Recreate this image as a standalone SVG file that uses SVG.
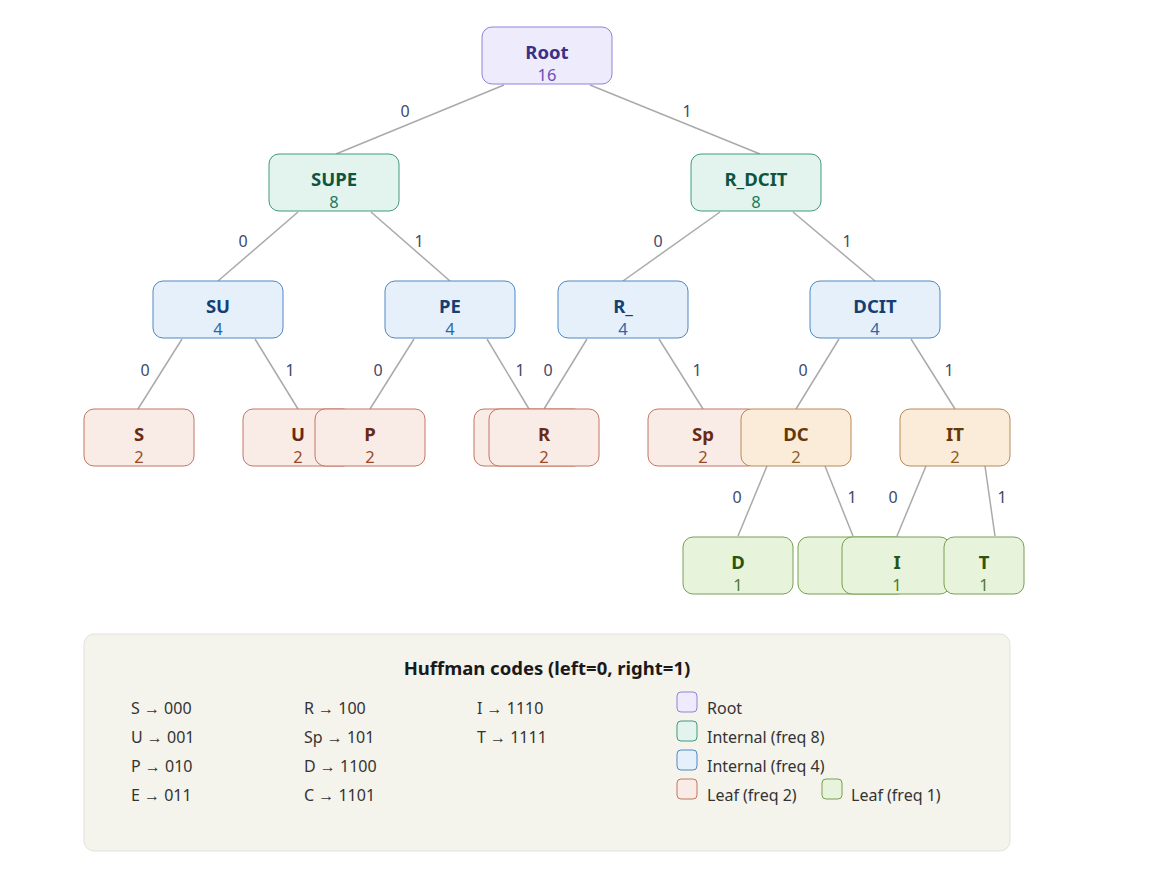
<svg xmlns="http://www.w3.org/2000/svg" width="1169" height="869" viewBox="0 0 1169 869">
<style>
text{font-family:"Noto Sans","Open Sans","Liberation Sans",sans-serif}
.lbl{font-size:18.5px;font-weight:bold;text-anchor:middle}
.num{font-size:16.5px;text-anchor:middle}
.edge{stroke:#aaaaaa;stroke-width:1.5;fill:none}
.el{font-size:16px;fill:#3e4a6a;text-anchor:middle}
.root rect{fill:#eeebfc;stroke:#8f83d8}
.root .lbl{fill:#3b2f86}.root .num{fill:#6a4fb8}
.i8 rect{fill:#e3f4ee;stroke:#409a7c}
.i8 .lbl{fill:#0e5440}.i8 .num{fill:#1f7a5e}
.i4 rect{fill:#e6f0fa;stroke:#4f87c4}
.i4 .lbl{fill:#143f72}.i4 .num{fill:#2c68a8}
.l2 rect{fill:#f9ebe6;stroke:#c27663}
.l2 .lbl{fill:#6a2a12}.l2 .num{fill:#9a4a28}
.o2 rect{fill:#faecd9;stroke:#b88a52}
.o2 .lbl{fill:#65380c}.o2 .num{fill:#8a5a1e}
.l1 rect{fill:#e8f3dc;stroke:#76a052}
.l1 .lbl{fill:#2c5410}.l1 .num{fill:#4f7a2a}
.code{font-size:16px;fill:#333333}
.leg{font-size:16px;fill:#333333}
</style>
<rect width="1169" height="869" fill="#ffffff"/>
<g id="connectors">
<line class="edge" x1="504" y1="85" x2="336" y2="154"/>
<line class="edge" x1="590" y1="85" x2="760" y2="154"/>
<line class="edge" x1="298" y1="212" x2="218" y2="281"/>
<line class="edge" x1="371" y1="212" x2="450" y2="281"/>
<line class="edge" x1="720" y1="212" x2="623" y2="281"/>
<line class="edge" x1="793" y1="212" x2="875" y2="281"/>
<line class="edge" x1="182" y1="339" x2="138" y2="409"/>
<line class="edge" x1="255" y1="339" x2="298" y2="409"/>
<line class="edge" x1="414" y1="339" x2="370" y2="409"/>
<line class="edge" x1="487" y1="339" x2="529" y2="409"/>
<line class="edge" x1="587" y1="339" x2="544" y2="409"/>
<line class="edge" x1="659" y1="339" x2="703" y2="409"/>
<line class="edge" x1="839" y1="339" x2="796" y2="409"/>
<line class="edge" x1="911" y1="339" x2="955" y2="409"/>
<line class="edge" x1="767" y1="466" x2="738" y2="536"/>
<line class="edge" x1="825" y1="466" x2="853" y2="536"/>
<line class="edge" x1="926" y1="466" x2="897" y2="536"/>
<line class="edge" x1="985" y1="466" x2="995" y2="536"/>
<text class="el" x="405" y="117">0</text>
<text class="el" x="687" y="117">1</text>
<text class="el" x="243" y="247">0</text>
<text class="el" x="419" y="247">1</text>
<text class="el" x="658" y="247">0</text>
<text class="el" x="847" y="247">1</text>
<text class="el" x="145" y="376">0</text>
<text class="el" x="290" y="376">1</text>
<text class="el" x="378" y="376">0</text>
<text class="el" x="520" y="376">1</text>
<text class="el" x="548" y="376">0</text>
<text class="el" x="697" y="376">1</text>
<text class="el" x="803" y="376">0</text>
<text class="el" x="949" y="376">1</text>
<text class="el" x="737" y="503">0</text>
<text class="el" x="852" y="503">1</text>
<text class="el" x="893" y="503">0</text>
<text class="el" x="1002" y="503">1</text>
</g>
<g id="node-root" class="root"><rect x="482" y="27" width="130" height="57" rx="10"/><text class="lbl" x="547" y="58.5">Root</text><text class="num" x="547" y="81">16</text></g>
<g id="node-SUPE" class="i8"><rect x="269" y="154" width="130" height="57" rx="10"/><text class="lbl" x="334" y="185.5">SUPE</text><text class="num" x="334" y="208">8</text></g>
<g id="node-R_DCIT" class="i8"><rect x="691" y="154" width="130" height="57" rx="10"/><text class="lbl" x="756" y="185.5">R_DCIT</text><text class="num" x="756" y="208">8</text></g>
<g id="node-SU" class="i4"><rect x="153" y="281" width="130" height="57" rx="10"/><text class="lbl" x="218" y="312.5">SU</text><text class="num" x="218" y="335">4</text></g>
<g id="node-PE" class="i4"><rect x="385" y="281" width="130" height="57" rx="10"/><text class="lbl" x="450" y="312.5">PE</text><text class="num" x="450" y="335">4</text></g>
<g id="node-R_" class="i4"><rect x="558" y="281" width="130" height="57" rx="10"/><text class="lbl" x="623" y="312.5">R_</text><text class="num" x="623" y="335">4</text></g>
<g id="node-DCIT" class="i4"><rect x="810" y="281" width="130" height="57" rx="10"/><text class="lbl" x="875" y="312.5">DCIT</text><text class="num" x="875" y="335">4</text></g>
<g id="node-S" class="l2"><rect x="84" y="409" width="110" height="57" rx="10"/><text class="lbl" x="139" y="440.5">S</text><text class="num" x="139" y="463">2</text></g>
<g id="node-U" class="l2"><rect x="243" y="409" width="110" height="57" rx="10"/><text class="lbl" x="298" y="440.5">U</text><text class="num" x="298" y="463">2</text></g>
<g id="node-P" class="l2"><rect x="315" y="409" width="110" height="57" rx="10"/><text class="lbl" x="370" y="440.5">P</text><text class="num" x="370" y="463">2</text></g>
<g id="node-E" class="l2"><rect x="474" y="409" width="110" height="57" rx="10"/><text class="lbl" x="529" y="440.5">E</text><text class="num" x="529" y="463">2</text></g>
<g id="node-R" class="l2"><rect x="489" y="409" width="110" height="57" rx="10"/><text class="lbl" x="544" y="440.5">R</text><text class="num" x="544" y="463">2</text></g>
<g id="node-Sp" class="l2"><rect x="648" y="409" width="110" height="57" rx="10"/><text class="lbl" x="703" y="440.5">Sp</text><text class="num" x="703" y="463">2</text></g>
<g id="node-DC" class="o2"><rect x="741" y="409" width="110" height="57" rx="10"/><text class="lbl" x="796" y="440.5">DC</text><text class="num" x="796" y="463">2</text></g>
<g id="node-IT" class="o2"><rect x="900" y="409" width="110" height="57" rx="10"/><text class="lbl" x="955" y="440.5">IT</text><text class="num" x="955" y="463">2</text></g>
<g id="node-D" class="l1"><rect x="683" y="537" width="110" height="57" rx="10"/><text class="lbl" x="738" y="568.5">D</text><text class="num" x="738" y="591">1</text></g>
<g id="node-C" class="l1"><rect x="798" y="537" width="110" height="57" rx="10"/><text class="lbl" x="853" y="568.5">C</text><text class="num" x="853" y="591">1</text></g>
<g id="node-I" class="l1"><rect x="842" y="537" width="108" height="57" rx="10"/><text class="lbl" x="897" y="568.5">I</text><text class="num" x="897" y="591">1</text></g>
<g id="node-T" class="l1"><rect x="944" y="537" width="80" height="57" rx="10"/><text class="lbl" x="984" y="568.5">T</text><text class="num" x="984" y="591">1</text></g>
<g id="legend">
<rect x="84" y="634" width="926" height="217" rx="10" fill="#f4f3ec" stroke="#e2e1da"/>
<text x="547" y="674.5" font-size="18.5" font-weight="bold" fill="#1a1a1a" text-anchor="middle">Huffman codes (left=0, right=1)</text>
<text class="code" x="131" y="714">S → 000</text>
<text class="code" x="131" y="743">U → 001</text>
<text class="code" x="131" y="772">P → 010</text>
<text class="code" x="131" y="801">E → 011</text>
<text class="code" x="304" y="714">R → 100</text>
<text class="code" x="304" y="743">Sp → 101</text>
<text class="code" x="304" y="772">D → 1100</text>
<text class="code" x="304" y="801">C → 1101</text>
<text class="code" x="477" y="714">I → 1110</text>
<text class="code" x="477" y="743">T → 1111</text>
<rect x="677" y="692" width="20" height="20" rx="4" fill="#eeebfc" stroke="#8f83d8"/>
<text class="leg" x="707" y="714">Root</text>
<rect x="677" y="721" width="20" height="20" rx="4" fill="#e3f4ee" stroke="#409a7c"/>
<text class="leg" x="707" y="743">Internal (freq 8)</text>
<rect x="677" y="750" width="20" height="20" rx="4" fill="#e6f0fa" stroke="#4f87c4"/>
<text class="leg" x="707" y="772">Internal (freq 4)</text>
<rect x="677" y="779" width="20" height="20" rx="4" fill="#f9ebe6" stroke="#c27663"/>
<text class="leg" x="707" y="801">Leaf (freq 2)</text>
<rect x="822" y="779" width="20" height="20" rx="4" fill="#e8f3dc" stroke="#76a052"/>
<text class="leg" x="851" y="801">Leaf (freq 1)</text>
</g>
</svg>
